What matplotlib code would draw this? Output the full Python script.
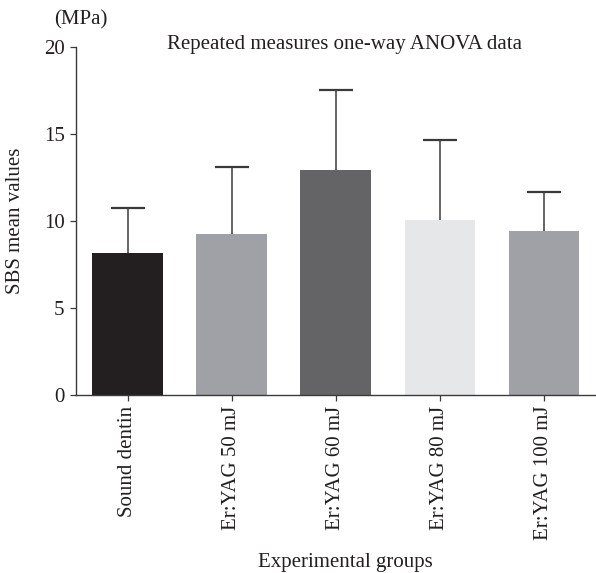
import matplotlib
matplotlib.use("Agg")
from matplotlib import pyplot as plt

# data
groups = ["Sound dentin", "Er:YAG 50 mJ", "Er:YAG 60 mJ", "Er:YAG 80 mJ", "Er:YAG 100 mJ"]
means = [8.17, 9.25, 12.92, 10.03, 9.41]
sd = [2.59, 3.84, 4.60, 4.61, 2.22]
bar_colors = ["#231f20", "#9fa1a6", "#646466", "#e6e7e8", "#9fa1a6"]


def draw_chart():
    plt.rcParams["font.family"] = ["Liberation Serif", "DejaVu Serif"]
    plt.rcParams["font.size"] = 15

    fig = plt.figure(figsize=(5.96, 5.73), dpi=100)
    ax = fig.add_axes([0.127, 0.3115, 0.873, 0.6065])

    x = list(range(len(groups)))
    # error bars behind the bars so only the upper half shows
    ax.errorbar(x, means, yerr=sd, fmt="none", ecolor="#3a3a3a",
                elinewidth=1.1, capsize=12, capthick=1.6, zorder=1)
    ax.bar(x, means, width=0.68, color=bar_colors, zorder=2, linewidth=0)

    ax.set_xlim(-0.5, 4.5)
    ax.set_ylim(0, 20)
    ax.set_yticks([0, 5, 10, 15, 20])
    ax.set_xticks(x)
    ax.set_xticklabels(groups, rotation=90)

    for side in ["top", "right"]:
        ax.spines[side].set_visible(False)
    for side in ["left", "bottom"]:
        ax.spines[side].set_color("#3a3a3a")
        ax.spines[side].set_linewidth(1.0)
    ax.tick_params(direction="out", length=4, width=0.9, color="#3a3a3a",
                   labelcolor="#231f20", pad=4)

    fig.text(344 / 596, 1 - 44 / 573, "Repeated measures one-way ANOVA data",
             ha="center", va="center", color="#231f20")
    fig.text(81 / 596, 1 - 20 / 573, "(MPa)", ha="center", va="center", color="#231f20")
    fig.text(16 / 596, 1 - 221 / 573, "SBS mean values", rotation=90,
             ha="center", va="center", color="#231f20")
    fig.text(345 / 596, 1 - 562 / 573, "Experimental groups",
             ha="center", va="center", color="#231f20")

    plt.savefig("out.png", dpi=100)


def main():
    draw_chart()


if __name__ == '__main__':
    main()
